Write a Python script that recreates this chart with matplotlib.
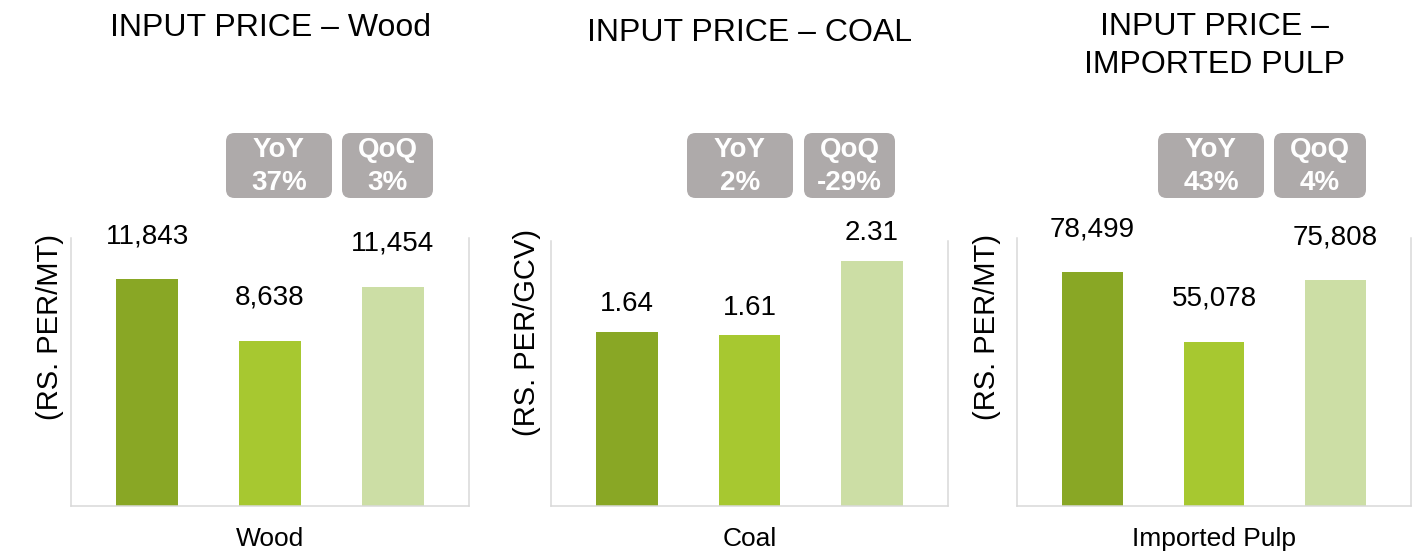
import matplotlib
matplotlib.use("Agg")
import matplotlib.pyplot as plt
from matplotlib.patches import FancyBboxPatch

plt.rcParams["font.family"] = ["Liberation Sans", "DejaVu Sans"]

# ---- data -------------------------------------------------------------
titles = ["INPUT PRICE – Wood", "INPUT PRICE – COAL", "INPUT PRICE –\nIMPORTED PULP"]
categories = ["Wood", "Coal", "Imported Pulp"]
ylabels = ["(RS. PER/MT)", "(RS. PER/GCV)", "(RS. PER/MT)"]
wood_prices = [11843, 8638, 11454]
coal_prices = [1.64, 1.61, 2.31]
pulp_prices = [78499, 55078, 75808]
value_formats = ["{:,.0f}", "{:.2f}", "{:,.0f}"]
yoy_changes = ["37%", "2%", "43%"]
qoq_changes = ["3%", "-29%", "4%"]
y_max = [14000, 2.5, 90000]

BAR_COLORS = ["#89a725", "#a7c830", "#ccdea5"]
BADGE_COLOR = "#aeaaaa"
SPINE_COLOR = "#d9d9d9"

W, H = 1422, 556


def fx(x):
    return x / W


def fy(y):
    return 1 - y / H


# layout in pixels: axes box, title / ylabel position, label offset (pt), badge spans
panels = [
    dict(left=71, right=469, top=238, title_y=28, ylab_x=50, ylab_y=327, off=31,
         yoy=(226, 332), qoq=(342, 433)),
    dict(left=551, right=948, top=241, title_y=33, ylab_x=527, ylab_y=332, off=20,
         yoy=(687, 793), qoq=(804, 895)),
    dict(left=1017, right=1411, top=238, title_y=46, ylab_x=987, ylab_y=327, off=31,
         yoy=(1158, 1264), qoq=(1274, 1366)),
]
BOTTOM = 506

series = [wood_prices, coal_prices, pulp_prices]

fig = plt.figure(figsize=(W / 100, H / 100), dpi=100)

for i, p in enumerate(panels):
    ax = fig.add_axes([fx(p["left"]), fy(BOTTOM),
                       (p["right"] - p["left"]) / W, (BOTTOM - p["top"]) / H])
    vals = series[i]
    xs = range(len(vals))
    ax.bar(xs, vals, width=0.5, color=BAR_COLORS)
    for x, v in zip(xs, vals):
        ax.annotate(value_formats[i].format(v), (x, v), xytext=(0, p["off"]),
                    textcoords="offset points", ha="center", va="center", fontsize=20)
    ax.set_xlim(-0.62, 2.62)
    ax.set_ylim(0, y_max[i])
    ax.set_yticks([])
    ax.set_xticks([1])
    ax.set_xticklabels([categories[i]], fontsize=19)
    ax.tick_params(axis="x", length=0, pad=15)
    ax.spines["top"].set_visible(False)
    for s in ("left", "right", "bottom"):
        ax.spines[s].set_color(SPINE_COLOR)
        ax.spines[s].set_linewidth(1.1)

    cx = (p["left"] + p["right"]) / 2
    fig.text(fx(cx), fy(p["title_y"]), titles[i], ha="center", va="center",
             fontsize=23, linespacing=1.38)
    fig.text(fx(p["ylab_x"]), fy(p["ylab_y"]), ylabels[i], rotation=90,
             ha="center", va="center", fontsize=21)

    # YoY / QoQ badges
    for (x0, x1), head, val in ((p["yoy"], "YoY", yoy_changes[i]),
                                (p["qoq"], "QoQ", qoq_changes[i])):
        box = FancyBboxPatch((fx(x0), fy(198)), (x1 - x0) / W, 65 / H,
                             boxstyle="round,pad=0,rounding_size=0.006",
                             transform=fig.transFigure, facecolor=BADGE_COLOR,
                             edgecolor="none", mutation_aspect=W / H)
        fig.patches.append(box)
        fig.text(fx((x0 + x1) / 2), fy(150), head, ha="center", va="center",
                 fontsize=20, fontweight="bold", color="white")
        fig.text(fx((x0 + x1) / 2), fy(183), val, ha="center", va="center",
                 fontsize=20, fontweight="bold", color="white")

fig.savefig("out.png", dpi=100)
